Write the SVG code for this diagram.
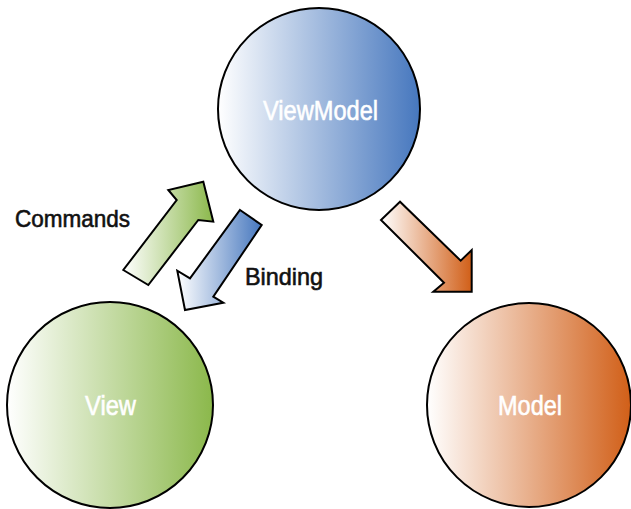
<svg xmlns="http://www.w3.org/2000/svg" width="631" height="509" viewBox="0 0 631 509">
<defs>
<linearGradient id="gBlue" x1="0" y1="0" x2="1" y2="0"><stop offset="0" stop-color="#ffffff"/><stop offset="1" stop-color="#4677be"/></linearGradient>
<linearGradient id="gGreen" x1="0" y1="0" x2="1" y2="0"><stop offset="0" stop-color="#ffffff"/><stop offset="1" stop-color="#8bb84b"/></linearGradient>
<linearGradient id="gOrange" x1="0" y1="0" x2="1" y2="0"><stop offset="0" stop-color="#ffffff"/><stop offset="1" stop-color="#d15f18"/></linearGradient>
<style>
.node{stroke:#000;stroke-width:2}
.arrow{stroke:#000;stroke-width:2;stroke-linejoin:miter}
.ntext{font-family:"Liberation Sans",Arial,sans-serif;fill:#fff;stroke:#fff;stroke-width:0.6;font-size:28px}
.label{font-family:"Liberation Sans",Arial,sans-serif;fill:#111;stroke:#111;stroke-width:0.6;font-size:24px}
</style>
</defs>
<g id="connectors">
<polygon id="commands-arrow" class="arrow" fill="url(#gGreen)" points="123.3,270 148.3,285 198.3,220 213.3,221.7 203.3,181.7 168.3,190 176.7,200"/>
<polygon id="binding-arrow" class="arrow" fill="url(#gBlue)" points="240,210 261.7,225 213.3,296.7 223.3,302.7 185,310 177.3,270.7 190,278.3"/>
<polygon id="model-arrow" class="arrow" fill="url(#gOrange)" points="400,201.7 381,220 444,282.7 433.3,291.7 471.7,291.7 471.7,250 460.7,260.7"/>
<text class="label" x="15" y="227" textLength="115" lengthAdjust="spacingAndGlyphs">Commands</text>
<text class="label" x="245" y="285" textLength="78" lengthAdjust="spacingAndGlyphs">Binding</text>
</g>
<g id="viewmodel">
<circle class="node" cx="319" cy="109" r="101" fill="url(#gBlue)"/>
<text class="ntext" x="263" y="120" textLength="115" lengthAdjust="spacingAndGlyphs">ViewModel</text>
</g>
<g id="view">
<circle class="node" cx="110" cy="405" r="103" fill="url(#gGreen)"/>
<text class="ntext" x="85" y="415" textLength="51" lengthAdjust="spacingAndGlyphs">View</text>
</g>
<g id="model">
<circle class="node" cx="529" cy="405" r="102" fill="url(#gOrange)"/>
<text class="ntext" x="498" y="415" textLength="64" lengthAdjust="spacingAndGlyphs">Model</text>
</g>
</svg>
